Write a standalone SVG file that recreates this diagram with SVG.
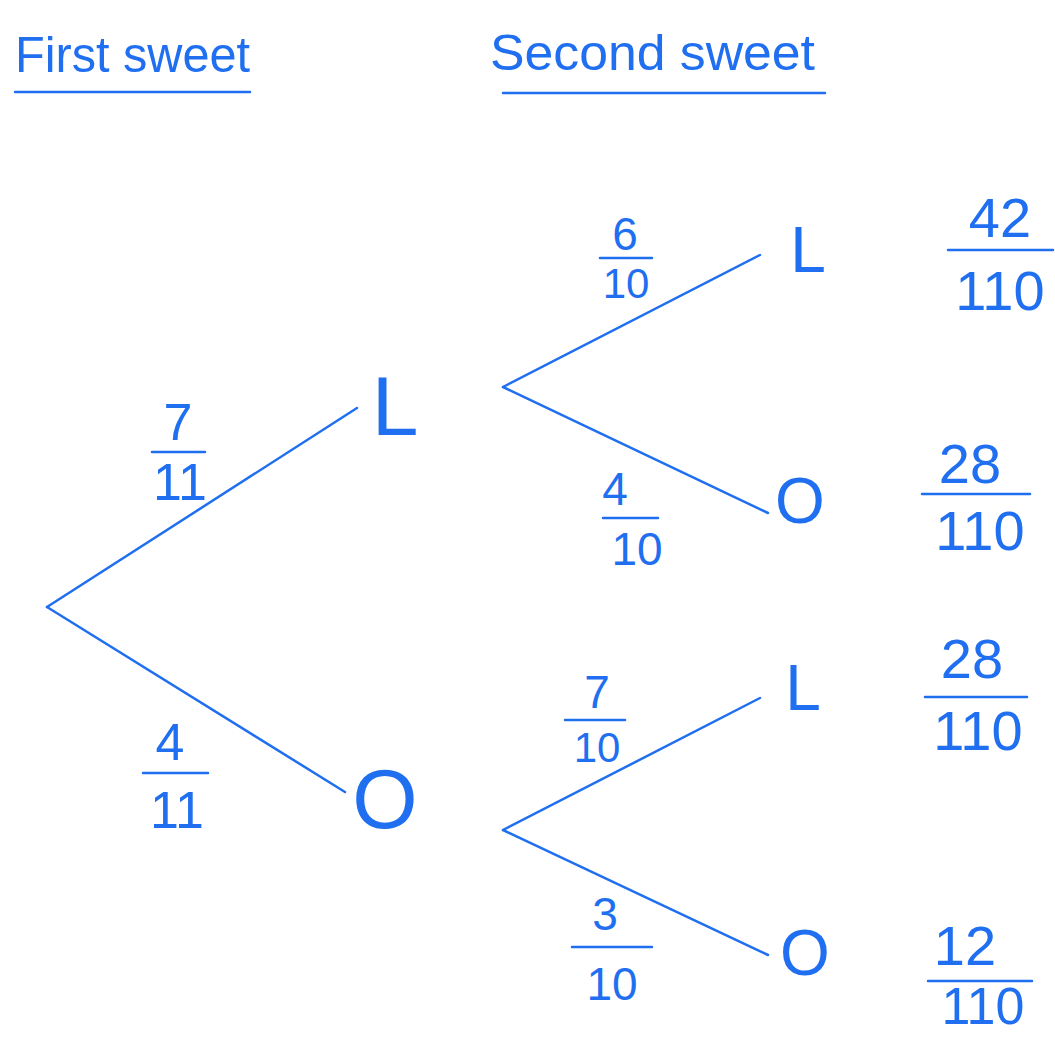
<svg xmlns="http://www.w3.org/2000/svg" width="1055" height="1037" viewBox="0 0 1055 1037">
<style>
.t{font-family:"Liberation Sans","DejaVu Sans",sans-serif;fill:#1f6ff0;text-anchor:middle}
.ln{stroke:#1f6ff0;stroke-width:2.5;fill:none;stroke-linecap:round}
.h{font-size:50px;text-anchor:start}
.f1{font-size:52px}
.f2{font-size:46px}
.f2s{font-size:42px}
.f3{font-size:56px}
.f3s{font-size:52px}
.n1{font-size:84px}
.n2{font-size:64px}
</style>
<rect width="1055" height="1037" fill="#ffffff"/>
<g id="headers">
<text class="t h" x="15" y="72" textLength="235" lengthAdjust="spacingAndGlyphs">First sweet</text>
<line class="ln" x1="15" y1="92" x2="250" y2="92"/>
<text class="t h" x="490" y="70" textLength="325" lengthAdjust="spacingAndGlyphs">Second sweet</text>
<line class="ln" x1="503" y1="93" x2="825" y2="93"/>
</g>
<g id="connectors">
<line class="ln" x1="47" y1="607" x2="357" y2="408"/>
<line class="ln" x1="47" y1="607" x2="345" y2="792"/>
<line class="ln" x1="503" y1="387" x2="760" y2="255"/>
<line class="ln" x1="503" y1="387" x2="768" y2="513"/>
<line class="ln" x1="503" y1="830" x2="760" y2="698"/>
<line class="ln" x1="503" y1="830" x2="768" y2="955"/>
</g>
<g id="node-L1"><text class="t n1" x="395" y="435">L</text></g>
<g id="node-O1"><text class="t n1" x="385" y="828">O</text></g>
<g id="node-LL"><text class="t n2" x="808" y="272">L</text></g>
<g id="node-LO"><text class="t n2" x="800" y="523">O</text></g>
<g id="node-OL"><text class="t n2" x="803" y="710">L</text></g>
<g id="node-OO"><text class="t n2" x="805" y="975">O</text></g>
<g id="frac-7-11">
<text class="t f1" x="178" y="440">7</text>
<line class="ln" x1="152" y1="452" x2="205" y2="452"/>
<text class="t f1" x="180" y="500">11</text>
</g>
<g id="frac-4-11">
<text class="t f1" x="170" y="760">4</text>
<line class="ln" x1="143" y1="773" x2="208" y2="773"/>
<text class="t f1" x="177" y="828">11</text>
</g>
<g id="frac-6-10">
<text class="t f2" x="625" y="250">6</text>
<line class="ln" x1="600" y1="258" x2="652" y2="258"/>
<text class="t f2s" x="626" y="298">10</text>
</g>
<g id="frac-4-10">
<text class="t f2" x="615" y="505">4</text>
<line class="ln" x1="603" y1="518" x2="658" y2="518"/>
<text class="t f2" x="637" y="565">10</text>
</g>
<g id="frac-7-10">
<text class="t f2" x="597" y="708">7</text>
<line class="ln" x1="565" y1="720" x2="625" y2="720"/>
<text class="t f2s" x="597" y="762">10</text>
</g>
<g id="frac-3-10">
<text class="t f2" x="605" y="930">3</text>
<line class="ln" x1="572" y1="947" x2="652" y2="947"/>
<text class="t f2" x="612" y="1000">10</text>
</g>
<g id="res-42-110">
<text class="t f3" x="1000" y="237">42</text>
<line class="ln" x1="948" y1="250" x2="1053" y2="250"/>
<text class="t f3" x="1000" y="310">110</text>
</g>
<g id="res-28-110-a">
<text class="t f3" x="970" y="483">28</text>
<line class="ln" x1="922" y1="494" x2="1030" y2="494"/>
<text class="t f3" x="980" y="550">110</text>
</g>
<g id="res-28-110-b">
<text class="t f3" x="972" y="678">28</text>
<line class="ln" x1="925" y1="697" x2="1027" y2="697"/>
<text class="t f3" x="978" y="750">110</text>
</g>
<g id="res-12-110">
<text class="t f3" x="965" y="965">12</text>
<line class="ln" x1="928" y1="981" x2="1032" y2="981"/>
<text class="t f3s" x="983" y="1024">110</text>
</g>
</svg>
